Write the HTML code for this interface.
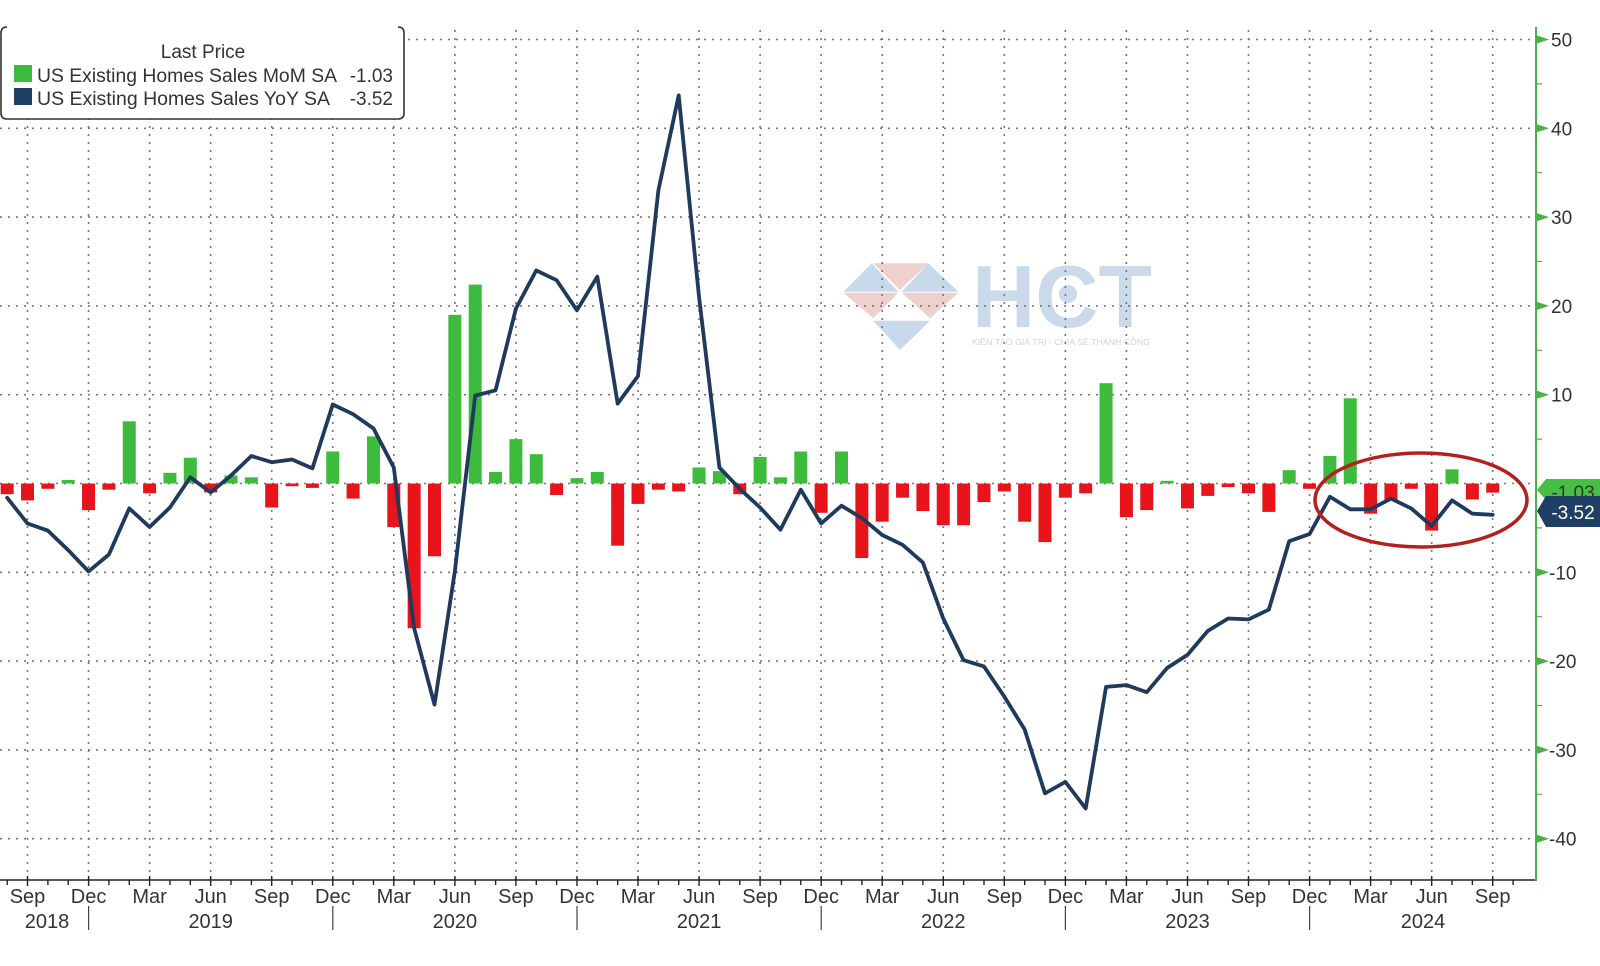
<!DOCTYPE html>
<html>
<head>
<meta charset="utf-8">
<style>
html,body{margin:0;padding:0;background:#fff;}
svg{display:block;}
text{font-family:"Liberation Sans","Noto Sans CJK SC",sans-serif;}
</style>
</head>
<body>
<svg width="1600" height="966" viewBox="0 0 1600 966" xmlns="http://www.w3.org/2000/svg">
<rect width="1600" height="966" fill="#fff"/>

<!-- watermark -->
<g opacity="0.95">
<polygon points="873.3,263.3 928.3,263.3 900,290" fill="#eecfcb"/>
<polygon points="843.3,291.7 871.7,263.3 898.3,291.7" fill="#c6d7ea"/>
<polygon points="901.7,291.7 928.3,263.3 958.3,291.7" fill="#c6d7ea"/>
<polygon points="843.3,292.7 898.3,292.7 873.3,318.3" fill="#eecfcb"/>
<polygon points="901.7,292.7 958.3,292.7 930,318.3" fill="#eecfcb"/>
<polygon points="873.3,320.7 930,320.7 900,350" fill="#c6d7ea"/>
<text x="972" y="327" font-size="88" font-weight="bold" fill="#c9d9ea" textLength="180" lengthAdjust="spacingAndGlyphs">HCT</text>
<circle cx="1068" cy="294" r="9" fill="#c9d9ea"/>
<text x="972" y="345" font-size="8.5" fill="#cfcfcf" textLength="178" lengthAdjust="spacingAndGlyphs">KIẾN TẠO GIÁ TRỊ - CHIA SẺ THÀNH CÔNG</text>
</g>

<!-- horizontal grid -->
<g stroke="#777" stroke-width="1.6" stroke-dasharray="2,6" fill="none">
<path d="M0 39.5H1536M0 128.3H1536M0 217.1H1536M0 305.9H1536M0 394.7H1536M0 483.5H1536M0 572.3H1536M0 661.1H1536M0 749.9H1536M0 838.7H1536"/>
<path d="M27.5 30V880M88.55 30V880M149.6 30V880M210.65 30V880M271.7 30V880M332.75 30V880M393.8 30V880M454.85 30V880M515.9 30V880M576.95 30V880M638 30V880M699.05 30V880M760.1 30V880M821.15 30V880M882.2 30V880M943.25 30V880M1004.3 30V880M1065.35 30V880M1126.4 30V880M1187.45 30V880M1248.5 30V880M1309.55 30V880M1370.6 30V880M1431.65 30V880M1492.7 30V880"/>
</g>

<!-- bars -->
<g fill="#e8141b">
<rect x="0.65" y="483.5" width="13" height="10.7"/>
<rect x="21" y="483.5" width="13" height="16.9"/>
<rect x="41.35" y="483.5" width="13" height="5.3"/>
<rect x="82.05" y="483.5" width="13" height="26.6"/>
<rect x="102.4" y="483.5" width="13" height="6.2"/>
<rect x="143.1" y="483.5" width="13" height="9.8"/>
<rect x="204.15" y="483.5" width="13" height="8.9"/>
<rect x="265.2" y="483.5" width="13" height="24"/>
<rect x="285.55" y="483.5" width="13" height="2.7"/>
<rect x="305.9" y="483.5" width="13" height="4.4"/>
<rect x="346.6" y="483.5" width="13" height="15.1"/>
<rect x="387.3" y="483.5" width="13" height="43.5"/>
<rect x="407.65" y="483.5" width="13" height="144.7"/>
<rect x="428" y="483.5" width="13" height="72.8"/>
<rect x="550.1" y="483.5" width="13" height="11.5"/>
<rect x="611.15" y="483.5" width="13" height="62.2"/>
<rect x="631.5" y="483.5" width="13" height="20.4"/>
<rect x="651.85" y="483.5" width="13" height="6.2"/>
<rect x="672.2" y="483.5" width="13" height="8"/>
<rect x="733.25" y="483.5" width="13" height="10.7"/>
<rect x="814.65" y="483.5" width="13" height="29.3"/>
<rect x="855.35" y="483.5" width="13" height="74.6"/>
<rect x="875.7" y="483.5" width="13" height="38.2"/>
<rect x="896.05" y="483.5" width="13" height="14.2"/>
<rect x="916.4" y="483.5" width="13" height="27.5"/>
<rect x="936.75" y="483.5" width="13" height="41.7"/>
<rect x="957.1" y="483.5" width="13" height="41.7"/>
<rect x="977.45" y="483.5" width="13" height="18.6"/>
<rect x="997.8" y="483.5" width="13" height="8"/>
<rect x="1018.15" y="483.5" width="13" height="38.2"/>
<rect x="1038.5" y="483.5" width="13" height="58.6"/>
<rect x="1058.85" y="483.5" width="13" height="14.2"/>
<rect x="1079.2" y="483.5" width="13" height="9.8"/>
<rect x="1119.9" y="483.5" width="13" height="33.7"/>
<rect x="1140.25" y="483.5" width="13" height="26.6"/>
<rect x="1180.95" y="483.5" width="13" height="24.9"/>
<rect x="1201.3" y="483.5" width="13" height="12.4"/>
<rect x="1221.65" y="483.5" width="13" height="3.6"/>
<rect x="1242" y="483.5" width="13" height="9.8"/>
<rect x="1262.35" y="483.5" width="13" height="28.4"/>
<rect x="1303.05" y="483.5" width="13" height="5.3"/>
<rect x="1364.1" y="483.5" width="13" height="30.2"/>
<rect x="1384.45" y="483.5" width="13" height="16.9"/>
<rect x="1404.8" y="483.5" width="13" height="5.3"/>
<rect x="1425.15" y="483.5" width="13" height="47.1"/>
<rect x="1465.85" y="483.5" width="13" height="16"/>
<rect x="1486.2" y="483.5" width="13" height="9.1"/>
</g>
<g fill="#3dbb3d">
<rect x="61.7" y="479.9" width="13" height="3.6"/>
<rect x="122.75" y="421.3" width="13" height="62.2"/>
<rect x="163.45" y="472.8" width="13" height="10.7"/>
<rect x="183.8" y="457.7" width="13" height="25.8"/>
<rect x="224.5" y="475.5" width="13" height="8"/>
<rect x="244.85" y="477.3" width="13" height="6.2"/>
<rect x="326.25" y="451.5" width="13" height="32"/>
<rect x="366.95" y="436.4" width="13" height="47.1"/>
<rect x="448.35" y="314.8" width="13" height="168.7"/>
<rect x="468.7" y="284.6" width="13" height="198.9"/>
<rect x="489.05" y="472" width="13" height="11.5"/>
<rect x="509.4" y="439.1" width="13" height="44.4"/>
<rect x="529.75" y="454.2" width="13" height="29.3"/>
<rect x="570.45" y="478.2" width="13" height="5.3"/>
<rect x="590.8" y="472" width="13" height="11.5"/>
<rect x="692.55" y="467.5" width="13" height="16"/>
<rect x="712.9" y="471.1" width="13" height="12.4"/>
<rect x="753.6" y="456.9" width="13" height="26.6"/>
<rect x="773.95" y="477.3" width="13" height="6.2"/>
<rect x="794.3" y="451.5" width="13" height="32"/>
<rect x="835" y="451.5" width="13" height="32"/>
<rect x="1099.55" y="383.2" width="13" height="100.3"/>
<rect x="1160.6" y="480.8" width="13" height="2.7"/>
<rect x="1282.7" y="470.2" width="13" height="13.3"/>
<rect x="1323.4" y="456" width="13" height="27.5"/>
<rect x="1343.75" y="398.3" width="13" height="85.2"/>
<rect x="1445.5" y="469.3" width="13" height="14.2"/>
</g>

<!-- YoY line -->
<polyline fill="none" stroke="#1f3a5c" stroke-width="3.8" stroke-linejoin="round" stroke-linecap="round"
points="7.15,497.7 27.5,523.5 47.85,530.6 68.2,550.1 88.55,571.4 108.9,554.5 129.25,508.4 149.6,527 169.95,507.5 190.3,477.3 210.65,492.4 231,475.5 251.35,456 271.7,462.2 292.05,459.5 312.4,468.4 332.75,404.5 353.1,414.2 373.45,428.4 393.8,467.5 414.15,628.2 434.5,704.6 454.85,571.4 475.2,395.6 495.55,390.3 515.9,308.6 536.25,270.4 556.6,280.2 576.95,310.3 597.3,276.6 617.65,403.6 638,376.1 658.35,190.5 678.7,95.4 699.05,297 719.4,467.5 739.75,488.8 760.1,507.5 780.45,529.7 800.8,489.7 821.15,523.5 841.5,505.7 861.85,518.1 882.2,535 902.55,544.8 922.9,562.5 943.25,618.5 963.6,660.2 983.95,666.4 1004.3,696.6 1024.65,729.5 1045,793.4 1065.35,781.9 1085.7,808.5 1106.05,686.9 1126.4,685.1 1146.75,692.2 1167.1,668 1187.45,654.9 1207.8,630.9 1228.15,618.5 1248.5,619.4 1268.85,609.6 1289.2,541.2 1309.55,534.1 1329.9,496.8 1350.25,509.3 1370.6,509.3 1390.95,498.6 1411.3,508.4 1431.65,526.1 1452,500.4 1472.35,513.7 1492.7,514.8"/>

<!-- red ellipse -->
<ellipse cx="1421" cy="500" rx="106" ry="47" fill="none" stroke="#b3201f" stroke-width="3.5"/>

<!-- legend -->
<rect x="1" y="27" width="403" height="92" fill="#fff"/>
<path d="M7 27Q1 27 1 33V113Q1 119 7 119H398Q404 119 404 113V33Q404 27 398 27" fill="none" stroke="#333" stroke-width="1.6"/>
<text x="203" y="58" font-size="19" fill="#333" text-anchor="middle">Last Price</text>
<rect x="14" y="65" width="18" height="17" fill="#3dbb3d"/>
<rect x="14" y="88" width="18" height="17" fill="#1f3f66"/>
<text x="37" y="82" font-size="19" fill="#333" textLength="300" lengthAdjust="spacingAndGlyphs">US Existing Homes Sales MoM SA</text>
<text x="393" y="82" font-size="19" fill="#333" text-anchor="end">-1.03</text>
<text x="37" y="105" font-size="19" fill="#333" textLength="293" lengthAdjust="spacingAndGlyphs">US Existing Homes Sales YoY SA</text>
<text x="393" y="105" font-size="19" fill="#333" text-anchor="end">-3.52</text>

<!-- bottom axis -->
<line x1="0" y1="880" x2="1537" y2="880" stroke="#222" stroke-width="1.6"/>
<path stroke="#222" stroke-width="1.4" fill="none" d="M7.2 880v5M27.5 876v10M47.9 880v5M68.2 880v5M88.6 876v10M108.9 880v5M129.3 880v5M149.6 876v10M170 880v5M190.3 880v5M210.7 876v10M231 880v5M251.4 880v5M271.7 876v10M292.1 880v5M312.4 880v5M332.8 876v10M353.1 880v5M373.5 880v5M393.8 876v10M414.2 880v5M434.5 880v5M454.9 876v10M475.2 880v5M495.6 880v5M515.9 876v10M536.3 880v5M556.6 880v5M577 876v10M597.3 880v5M617.7 880v5M638 876v10M658.4 880v5M678.7 880v5M699.1 876v10M719.4 880v5M739.8 880v5M760.1 876v10M780.5 880v5M800.8 880v5M821.2 876v10M841.5 880v5M861.9 880v5M882.2 876v10M902.6 880v5M922.9 880v5M943.3 876v10M963.6 880v5M984 880v5M1004.3 876v10M1024.7 880v5M1045 880v5M1065.4 876v10M1085.7 880v5M1106.1 880v5M1126.4 876v10M1146.8 880v5M1167.1 880v5M1187.5 876v10M1207.8 880v5M1228.2 880v5M1248.5 876v10M1268.9 880v5M1289.2 880v5M1309.6 876v10M1329.9 880v5M1350.3 880v5M1370.6 876v10M1391 880v5M1411.3 880v5M1431.7 876v10M1452 880v5M1472.4 880v5M1492.7 876v10M1513.1 880v5"/>
<path stroke="#444" stroke-width="1.2" d="M88.6 906V930M332.8 906V930M577 906V930M821.2 906V930M1065.4 906V930M1309.6 906V930"/>
<g font-size="20" fill="#333" text-anchor="middle">
<text x="27.5" y="903">Sep</text>
<text x="88.6" y="903">Dec</text>
<text x="149.6" y="903">Mar</text>
<text x="210.7" y="903">Jun</text>
<text x="271.7" y="903">Sep</text>
<text x="332.8" y="903">Dec</text>
<text x="393.8" y="903">Mar</text>
<text x="454.9" y="903">Jun</text>
<text x="515.9" y="903">Sep</text>
<text x="577" y="903">Dec</text>
<text x="638" y="903">Mar</text>
<text x="699.1" y="903">Jun</text>
<text x="760.1" y="903">Sep</text>
<text x="821.2" y="903">Dec</text>
<text x="882.2" y="903">Mar</text>
<text x="943.3" y="903">Jun</text>
<text x="1004.3" y="903">Sep</text>
<text x="1065.4" y="903">Dec</text>
<text x="1126.4" y="903">Mar</text>
<text x="1187.5" y="903">Jun</text>
<text x="1248.5" y="903">Sep</text>
<text x="1309.6" y="903">Dec</text>
<text x="1370.6" y="903">Mar</text>
<text x="1431.7" y="903">Jun</text>
<text x="1492.7" y="903">Sep</text>
<text x="47" y="928">2018</text>
<text x="210.7" y="928">2019</text>
<text x="454.9" y="928">2020</text>
<text x="699.1" y="928">2021</text>
<text x="943.3" y="928">2022</text>
<text x="1187.5" y="928">2023</text>
<text x="1423" y="928">2024</text>
</g>

<!-- right axis -->
<line x1="1536" y1="27" x2="1536" y2="881" stroke="#4cae4c" stroke-width="2"/>
<g fill="#4cae4c">
<polygon points="1537,35.5 1549,39.5 1537,43.5"/>
<polygon points="1537,124.3 1549,128.3 1537,132.3"/>
<polygon points="1537,213.1 1549,217.1 1537,221.1"/>
<polygon points="1537,301.9 1549,305.9 1537,309.9"/>
<polygon points="1537,390.7 1549,394.7 1537,398.7"/>
<polygon points="1537,568.3 1549,572.3 1537,576.3"/>
<polygon points="1537,657.1 1549,661.1 1537,665.1"/>
<polygon points="1537,745.9 1549,749.9 1537,753.9"/>
<polygon points="1537,834.7 1549,838.7 1537,842.7"/>
</g>
<path stroke="#4cae4c" stroke-width="1.2" d="M1536 83.9h6M1536 172.7h6M1536 261.5h6M1536 350.3h6M1536 439.1h6M1536 527.9h6M1536 616.7h6M1536 705.5h6M1536 794.3h6"/>
<g font-size="19" fill="#333">
<text x="1551" y="46.5">50</text>
<text x="1551" y="135.3">40</text>
<text x="1551" y="224.1">30</text>
<text x="1551" y="312.9">20</text>
<text x="1551" y="401.7">10</text>
<text x="1549" y="579.3">-10</text>
<text x="1549" y="668.1">-20</text>
<text x="1549" y="756.9">-30</text>
<text x="1549" y="845.7">-40</text>
</g>

<!-- last value labels -->
<polygon points="1537,490 1546,479 1600,479 1600,500 1546,500" fill="#45c045"/>
<text x="1573" y="499" font-size="19" fill="#2a3a2a" text-anchor="middle">-1.03</text>
<polygon points="1537,511 1546,496 1600,496 1600,527 1546,527" fill="#1f3f66"/>
<text x="1573" y="519" font-size="19" fill="#fff" text-anchor="middle">-3.52</text>
</svg>
</body>
</html>
